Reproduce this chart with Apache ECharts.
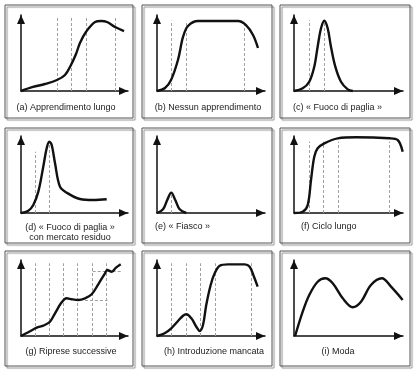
<!DOCTYPE html>
<html><head><meta charset="utf-8">
<script src="https://cdn.jsdelivr.net/npm/echarts@6.0.0/dist/echarts.min.js"></script>
<style>html,body{margin:0;padding:0;background:#fff}#c{width:418px;height:372px}</style>
</head><body><div id="c"></div>
<script>
// ---- captions ----
const captions = [
  "(a) Apprendimento lungo",
  "(b) Nessun apprendimento",
  "(c) « Fuoco di paglia »",
  "(d) « Fuoco di paglia »\ncon mercato residuo",
  "(e) « Fiasco »",
  "(f) Ciclo lungo",
  "(g) Riprese successive",
  "(h) Introduzione mancata",
  "(i) Moda"
];
// ---- curves (x: 0-100 along time axis, y: 0-100 along sales axis) ----
const curveA = [[0,0],[11.2,5.3],[22.4,9.2],[33.6,14.5],[41.1,21.1],[46.7,34.2],[51.4,48.7],[55.1,63.2],[60.7,77.6],[69.2,90.8],[74.8,92.1],[80.4,90.8],[87.9,84.2],[96.3,78.9]];
const curveB = [[0,0],[7.4,3.9],[13,14.5],[19.4,40.8],[24.1,71.1],[28.7,85.5],[38,92.1],[75,92.1],[82.4,86.8],[88.9,73.7],[93.5,56.6]];
const curveC = [[0,0],[8,3.6],[14,12.2],[18.6,32],[21.7,58.3],[24.8,82.5],[27.8,92.5],[30.9,82.5],[33.9,58.3],[37.9,32],[43.1,12.2],[49.3,2.2],[53.9,0]];
const curveD = [[0,0],[6.8,3],[11.5,10.4],[16.2,27.7],[20.8,60.1],[24,84],[26.4,92.6],[28.7,88.3],[31.8,64.5],[36.4,34.2],[42.7,26.4],[55.1,18.2],[67.6,16.9],[80.1,17.8]];
const curveE = [[0,0],[5.6,4.8],[9.5,16.9],[13.2,26.4],[16.9,16.9],[21,4.8],[27.1,0]];
const curveF = [[0,0],[8,1.7],[12.6,10.4],[15.6,42.9],[18.6,73.1],[21.7,84],[27.8,90.5],[40.1,97],[56.9,98.3],[87.4,97],[95.1,94.8],[99.7,79.6]];
const curveG = [[0,0],[6.8,4.9],[14.7,10.9],[20.8,13.6],[27.1,18.8],[31.8,29.9],[38,44.3],[42.7,49.6],[47.4,48.3],[53.6,47.4],[59.8,49.6],[66.1,54.9],[72.2,68],[78.5,82.5],[80.7,86.8],[84.8,84.6],[88.8,89.9],[93.2,94.3]];
const curveH = [[0,0],[7.1,3.6],[13.2,10.1],[19.4,19.7],[24.1,26.7],[27.1,28.6],[31.8,23.3],[36.4,12.2],[39.5,6.6],[42.6,14.5],[45.6,40.8],[49.7,67.1],[53.4,82.5],[58.1,92.5],[65.7,94.3],[81.2,94.3],[85.8,91.2],[89.8,78],[93.2,64.9]];
const curveI = [[1,0],[8,32],[14,53.9],[21.7,71.4],[28.7,75.9],[35.5,69.3],[44.7,49.6],[53.9,37.8],[61.5,45.1],[70.6,67.1],[80.7,75.9],[89,64.9],[99.7,47.4]];
// ---- dashed guide lines: [x, yTop] verticals ; [x1, x2, y] horizontals ----
const vDashA = [[33.6,97],[46.7,97],[60.7,97],[87.9,97]];
const vDashB = [[13,92.5],[26.9,92.5],[80.6,92.5]];
const vDashC = [[14,93],[27.8,92.5]];
const vDashD = [[13.1,79.6],[26.4,92.6]];
const vDashE = [[13.2,26.4]];
const vDashF = [[14,92.6],[27.2,92.6],[40.6,92.6],[87.4,92.6]];
const vDashG = [[13.1,95.7],[26.4,95.7],[39.5,95.7],[53,95.7],[66.6,95.7],[80.1,95.7]];
const hDashG = [[59.8,80.7,47.4],[67,94.1,85.5]];
const vDashH = [[13.2,95.7],[27.1,95.7],[40.5,95.7],[54,95.7],[87.3,95.7]];
const vDashI = [];

const curves = [curveA,curveB,curveC,curveD,curveE,curveF,curveG,curveH,curveI];
const vDashes = [vDashA,vDashB,vDashC,vDashD,vDashE,vDashF,vDashG,vDashH,vDashI];
const hDashes = [[],[],[],[],[],[],hDashG,[],[]];

// ---- layout (pixels) ----
const colL = [21,157,294], colTip = [128,265,403];
const rowB = [91,213,336], rowTip = [15,136,260];
const boxX = [[5,133],[142,272],[280,410]];
const boxY = [[5,118],[128,243],[251,366]];
const capPos = [
  [66,108,'center'],[208,108,'center'],[293,108,'left'],
  [70,232.5,'center'],[155,227,'left'],[301,227,'left'],
  [71,352,'center'],[214,352,'center'],[338,352,'center']
];

const grids=[], xAxes=[], yAxes=[], series=[], graphics=[];
const FONT = "Liberation Sans";
for (let i=0;i<9;i++){
  const r=Math.floor(i/3), c=i%3;
  grids.push({left:colL[c], top:rowTip[r], width:colTip[c]-colL[c], height:rowB[r]-rowTip[r]});
  const axisLine = {show:true, onZero:false, symbol:['none','triangle'], symbolSize:[8,9], symbolOffset:[0,-4.5],
                    lineStyle:{color:'#111', width:1.5}};
  xAxes.push({gridIndex:i, type:'value', min:0, max:100, axisLine, axisTick:{show:false}, axisLabel:{show:false}, splitLine:{show:false}});
  yAxes.push({gridIndex:i, type:'value', min:0, max:100, axisLine, axisTick:{show:false}, axisLabel:{show:false}, splitLine:{show:false}});
  const mlData = [];
  vDashes[i].forEach(d=>mlData.push([{coord:[d[0],0]},{coord:[d[0],d[1]]}]));
  hDashes[i].forEach(d=>mlData.push([{coord:[d[0],d[2]]},{coord:[d[1],d[2]]}]));
  series.push({type:'line', xAxisIndex:i, yAxisIndex:i, data:curves[i], smooth:0.35, showSymbol:false, clip:false,
    lineStyle:{color:'#111', width:2.4}, z:3,
    markLine:{silent:true, symbol:['none','none'], label:{show:false}, animation:false,
      lineStyle:{color:'#a0a0a0', width:1, type:[3,2]}, data:mlData, z:1}});
  graphics.push({type:'rect', shape:{x:boxX[c][0], y:boxY[r][0], width:boxX[c][1]-boxX[c][0], height:boxY[r][1]-boxY[r][0]},
    style:{fill:'none', stroke:'#555', lineWidth:1, shadowBlur:1, shadowOffsetX:2, shadowOffsetY:2, shadowColor:'rgba(0,0,0,0.45)'}});
  const p = capPos[i];
  graphics.push({type:'text', x:p[0], y:p[1], style:{text:captions[i], fill:'#222', fontSize:9, fontFamily:FONT,
    align:p[2], verticalAlign:'middle', lineHeight:10}});
}

const chart = echarts.init(document.getElementById('c'), null, {renderer:'canvas'});
chart.setOption({animation:false, backgroundColor:'#fff', grid:grids, xAxis:xAxes, yAxis:yAxes, series, graphic:graphics});
</script></body></html>
